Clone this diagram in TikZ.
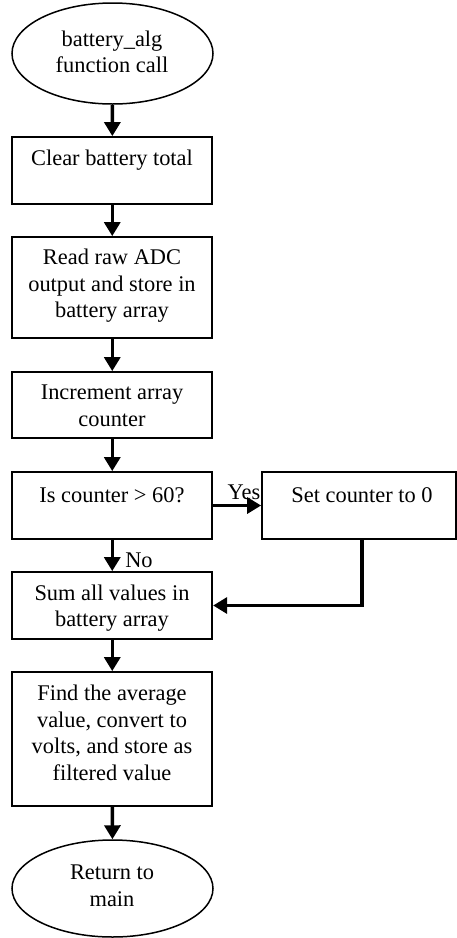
\documentclass[tikz,border=0pt]{standalone}
\usepackage{fontspec}
\setmainfont{Liberation Serif}
\usetikzlibrary{shapes.geometric,arrows.meta}
\tikzset{
  boxshape/.style={draw,line width=1.8pt,rectangle,inner sep=0pt,minimum width=200pt},
  ovalshape/.style={draw,line width=1.5pt,ellipse,inner sep=0pt,minimum width=201pt},
  txt/.style={align=center,font=\fontsize{22.4}{26.5}\selectfont,inner sep=0pt},
  arr/.style={line width=3.3pt,-{Triangle[length=14pt,width=16pt]}}
}
\begin{document}
\begin{tikzpicture}[x=1pt,y=-1pt]
\useasboundingbox (0,0) rectangle (457,938);
\node[ovalshape,minimum height=101pt] (e1) at (112.5,53.5) {};
\node[boxshape,minimum height=67pt] (b1) at (112.25,170.5) {};
\node[boxshape,minimum height=101pt] (b2) at (112.25,287.5) {};
\node[boxshape,minimum height=66pt] (b3) at (112.25,405) {};
\node[boxshape,minimum height=67pt] (b4) at (112.25,505.5) {};
\node[boxshape,minimum height=67pt,minimum width=194pt] (b5) at (359,505.5) {};
\node[boxshape,minimum height=67pt] (b6) at (112.25,605.5) {};
\node[boxshape,minimum height=134pt] (b7) at (112.25,739) {};
\node[ovalshape,minimum height=97pt] (e2) at (112.5,888.5) {};

\node[txt] (t1) at (112,52) {battery\_alg\\function call};
\node[txt] (t2) at (112,160) {Clear battery total};
\node[txt] (t3) at (112,286) {Read raw ADC\\output and store in\\battery array};
\node[txt] (t4) at (112,406) {Increment array\\counter};
\node[txt] (t5) at (112,495) {Is counter > 60?};
\node[txt] (t6) at (362,495) {Set counter to 0};
\node[txt] (t7) at (112,608) {Sum all values in\\battery array};
\node[txt] (t8) at (112,733) {Find the average\\value, convert to\\volts, and store as\\filtered value};
\node[txt] (t9) at (112,886) {Return to\\main};

\draw[arr] (e1) -- (b1);
\draw[arr] (b1) -- (b2);
\draw[arr] (b2) -- (b3);
\draw[arr] (b3) -- (b4);
\draw[arr] (b4.east) -- (b5.west);
\draw[arr] (b4) -- (b6);
\draw[arr] ([xshift=3pt]b5.south) |- (b6.east);
\draw[arr] (b6) -- (b7);
\draw[arr] (b7) -- (e2);

\node[txt] (yes) at (244,492) {Yes};
\node[txt] (no) at (139,560) {No};
\end{tikzpicture}
\end{document}
